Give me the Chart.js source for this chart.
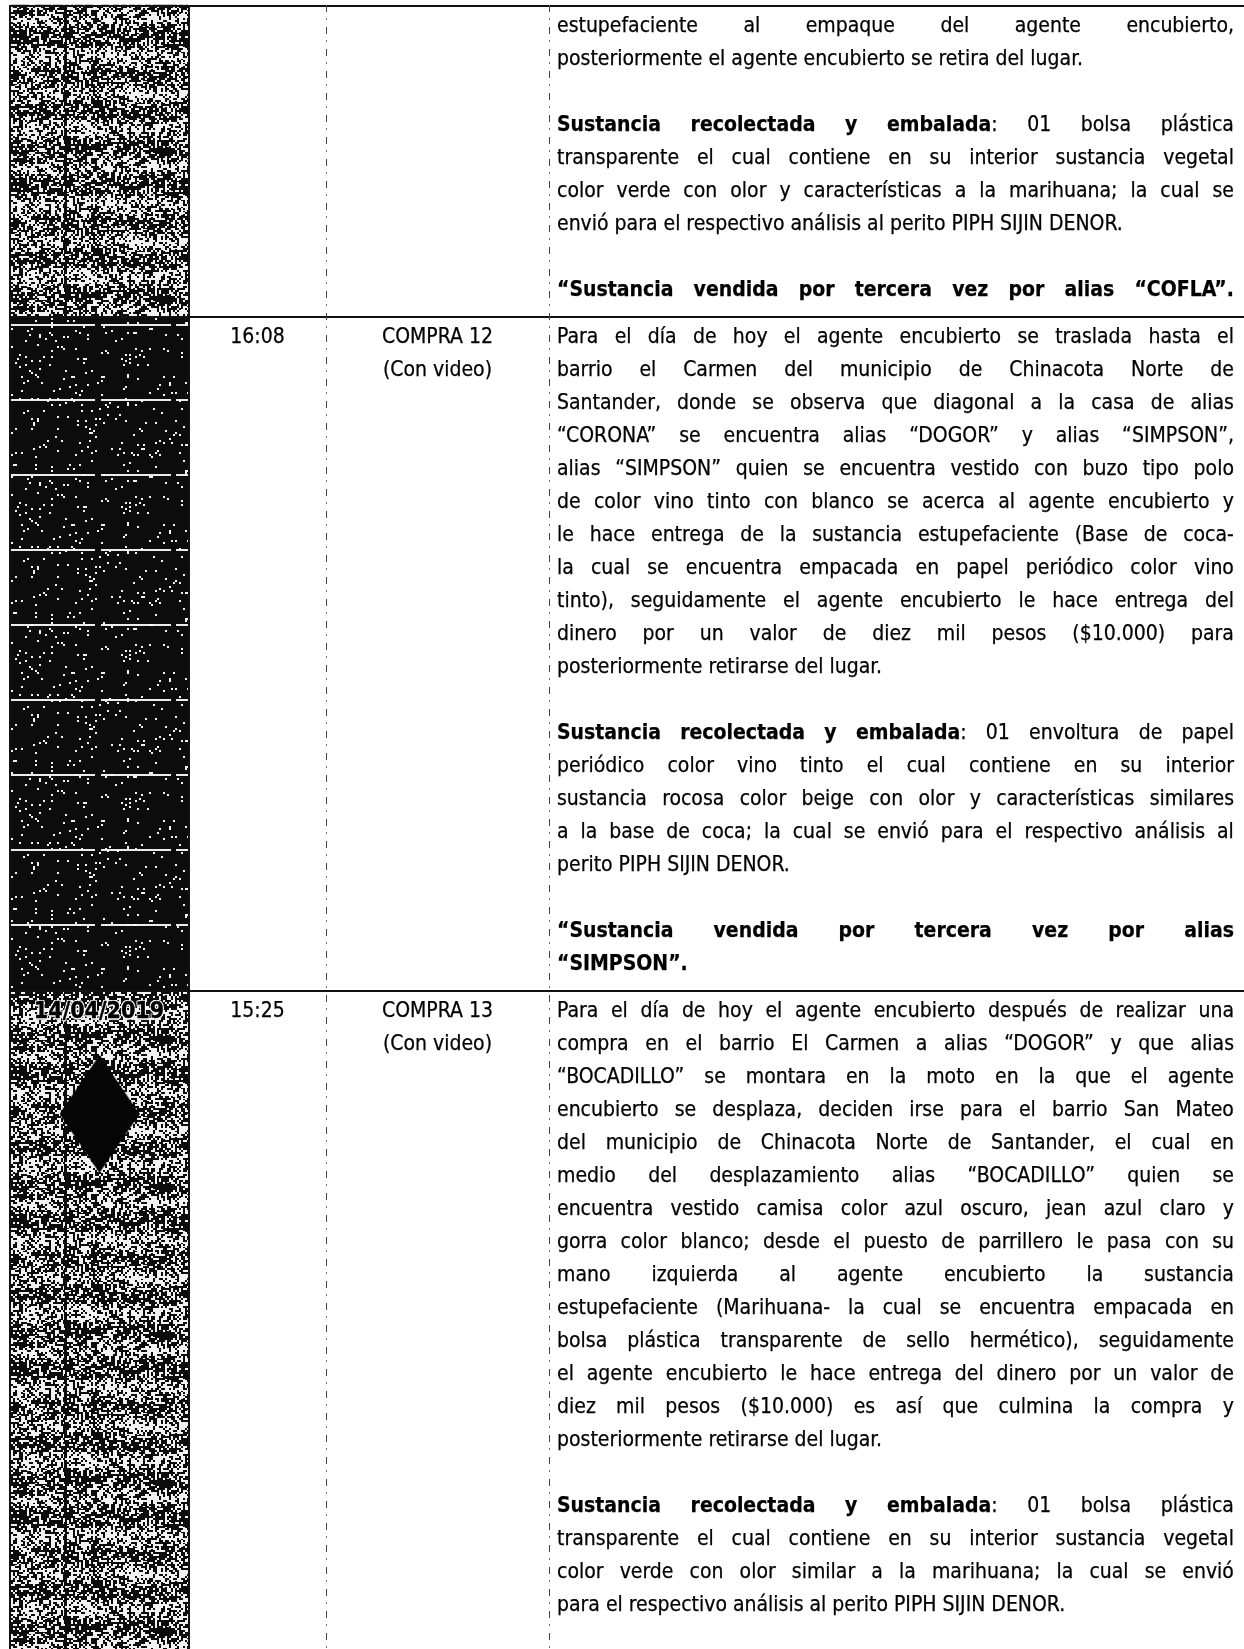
<!DOCTYPE html>
<html lang="es">
<head>
<meta charset="utf-8">
<title>Compras</title>
<script src="https://cdn.jsdelivr.net/npm/chart.js@4.4.1/dist/chart.umd.min.js"></script>
<style>
  html, body { margin: 0; padding: 0; background: #fff; }
  body { width: 1244px; height: 1649px; overflow: hidden; position: relative;
         font-family: "DejaVu Sans Condensed", "DejaVu Sans", sans-serif; font-size: 21px; color: #000;
         -webkit-text-stroke: 0.25px #000; }
  #scan { position: absolute; left: 11px; top: 0; z-index: 1; }
  #table { position: absolute; left: 9px; top: 5px; width: 1235px; z-index: 2; }
  .row { display: grid; grid-template-columns: 180px 137px 223px 695px; border-top: 2px solid #111; }
  .cell { padding: 2px 0 10px 0; line-height: 33px; }
  .c1 { text-align: center; font-size: 23px; font-weight: bold; color: #000; -webkit-text-stroke: 0.4px #000;
        text-shadow: 1px 1px 0 #fff, -1px -1px 0 #fff, 1px -1px 0 #fff, -1px 1px 0 #fff, 0 2px 1px #ddd; }
  .c2, .c3 { text-align: center; }
  .c4 { padding-left: 8px; padding-right: 10px; }
  .ln { height: 33px; line-height: 33px; white-space: nowrap; }
  .ln.j { display: flex; justify-content: space-between; }
  .para { margin-bottom: 33px; }
  .para:last-child { margin-bottom: 0; }
  .vl { position: absolute; top: 5px; bottom: 0; z-index: 3; }
  .solid { width: 2px; background: #111; }
  .dots { width: 1px; background: repeating-linear-gradient(to bottom, #444 0 7px, transparent 7px 13px, #777 13px 15px, transparent 15px 22px); }
</style>
</head>
<body>
<canvas id="scan" width="177" height="1649"></canvas>
<div id="table"></div>
<div class="vl solid" style="left:9px"></div>
<div class="vl solid" style="left:188px"></div>
<div class="vl dots" style="left:326px"></div>
<div class="vl dots" style="left:549px"></div>

<script>
// --- datos de la tabla (una entrada por fila) ---
const rowDates = ['', '', '14/04/2019'];
const rowTimes = ['', '16:08', '15:25'];
const rowBuys = ['', 'COMPRA 12', 'COMPRA 13'];
const rowNotes = ['', '(Con video)', '(Con video)'];
const rowTones = ['scan', 'dark', 'scan'];

// texto de la descripción: *...* = negrita; la última línea de cada párrafo va a la izquierda
// (un '' al final del párrafo justifica también la última línea)
const rowText = [
  [
    ['estupefaciente al empaque del agente encubierto,',
     'posteriormente el agente encubierto se retira del lugar.'],
    ['*Sustancia recolectada y embalada*: 01 bolsa plástica',
     'transparente el cual contiene en su interior sustancia vegetal',
     'color verde con olor y características a la marihuana; la cual se',
     'envió para el respectivo análisis al perito PIPH SIJIN DENOR.'],
    ['*“Sustancia vendida por tercera vez por alias “COFLA”.*', '']
  ],
  [
    ['Para el día de hoy el agente encubierto se traslada hasta el',
     'barrio el Carmen del municipio de Chinacota Norte de',
     'Santander, donde se observa que diagonal a la casa de alias',
     '“CORONA” se encuentra alias “DOGOR” y alias “SIMPSON”,',
     'alias “SIMPSON” quien se encuentra vestido con buzo tipo polo',
     'de color vino tinto con blanco se acerca al agente encubierto y',
     'le hace entrega de la sustancia estupefaciente (Base de coca-',
     'la cual se encuentra empacada en papel periódico color vino',
     'tinto), seguidamente el agente encubierto le hace entrega del',
     'dinero por un valor de diez mil pesos ($10.000) para',
     'posteriormente retirarse del lugar.'],
    ['*Sustancia recolectada y embalada*: 01 envoltura de papel',
     'periódico color vino tinto el cual contiene en su interior',
     'sustancia rocosa color beige con olor y características similares',
     'a la base de coca; la cual se envió para el respectivo análisis al',
     'perito PIPH SIJIN DENOR.'],
    ['*“Sustancia vendida por tercera vez por alias*',
     '*“SIMPSON”.*']
  ],
  [
    ['Para el día de hoy el agente encubierto después de realizar una',
     'compra en el barrio El Carmen a alias “DOGOR” y que alias',
     '“BOCADILLO” se montara en la moto en la que el agente',
     'encubierto se desplaza, deciden irse para el barrio San Mateo',
     'del municipio de Chinacota Norte de Santander, el cual en',
     'medio del desplazamiento alias “BOCADILLO” quien se',
     'encuentra vestido camisa color azul oscuro, jean azul claro y',
     'gorra color blanco; desde el puesto de parrillero le pasa con su',
     'mano izquierda al agente encubierto la sustancia',
     'estupefaciente (Marihuana- la cual se encuentra empacada en',
     'bolsa plástica transparente de sello hermético), seguidamente',
     'el agente encubierto le hace entrega del dinero por un valor de',
     'diez mil pesos ($10.000) es así que culmina la compra y',
     'posteriormente retirarse del lugar.'],
    ['*Sustancia recolectada y embalada*: 01 bolsa plástica',
     'transparente el cual contiene en su interior sustancia vegetal',
     'color verde con olor similar a la marihuana; la cual se envió',
     'para el respectivo análisis al perito PIPH SIJIN DENOR.']
  ]
];

const PAGE_H = 1649;
const ruleGap = 75;        // separación de las rayas blancas en la franja negra
const diamondOffset = 124; // centro del rombo bajo el borde de la fila 3

// --- construcción de la tabla ---
function parseWords(line) {
  const words = []; let bold = false, cur = [], buf = '';
  const flush = () => { if (buf) { cur.push({ t: buf, b: bold }); buf = ''; } };
  for (const ch of line) {
    if (ch === '*') { flush(); bold = !bold; }
    else if (ch === ' ') { flush(); if (cur.length) { words.push(cur); cur = []; } }
    else buf += ch;
  }
  flush(); if (cur.length) words.push(cur);
  return words;
}
const wordHtml = w => w.map(s => s.b ? `<b>${s.t}</b>` : s.t).join('');

function lineEl(line, justify) {
  const d = document.createElement('div');
  d.className = justify ? 'ln j' : 'ln';
  const words = parseWords(line);
  d.innerHTML = justify ? words.map(w => `<span>${wordHtml(w)}</span>`).join('') : words.map(wordHtml).join(' ');
  return d;
}

const table = document.getElementById('table');
rowText.forEach((paras, i) => {
  const row = document.createElement('div');
  row.className = 'row';
  const c1 = document.createElement('div'); c1.className = 'cell c1'; c1.textContent = rowDates[i];
  const c2 = document.createElement('div'); c2.className = 'cell c2'; c2.textContent = rowTimes[i];
  const c3 = document.createElement('div'); c3.className = 'cell c3';
  c3.innerHTML = rowBuys[i] ? `${rowBuys[i]}<br>${rowNotes[i]}` : '';
  const c4 = document.createElement('div'); c4.className = 'cell c4';
  paras.forEach(lines => {
    const p = document.createElement('div'); p.className = 'para';
    const forceLast = lines[lines.length - 1] === '';
    const real = forceLast ? lines.slice(0, -1) : lines;
    real.forEach((l, k) => p.appendChild(lineEl(l, k < real.length - 1 || forceLast)));
    c4.appendChild(p);
  });
  row.append(c1, c2, c3, c4);
  table.appendChild(row);
});

// --- texturas del escaneo (solo estilo) ---
function hash(x, y) {
  const s = Math.sin(x * 12.9898 + y * 78.233) * 43758.5453;
  return s - Math.floor(s);
}
function makeTexture(w, h, dark) {
  const c = document.createElement('canvas'); c.width = w; c.height = h;
  const g = c.getContext('2d'); const img = g.createImageData(w, h);
  for (let y = 0; y < h; y++) {
    for (let x = 0; x < w; x++) {
      const n = hash((x >> 1) + 3, (y >> 1) + 7);
      let p;
      if (dark) p = 0.965;
      else {
        const streak = 0.5 + 0.5 * Math.cos(y / 37 * 2 * Math.PI);
        const blot = hash((x >> 3) + 11, (y >> 3) + 5) - 0.5;
        p = 0.40 + 0.32 * streak + 0.3 * blot;
        if (Math.abs(x - 54) < 2) p = 0.92;
      }
      const v = n < p ? 12 : 242;
      const o = (y * w + x) * 4;
      img.data[o] = img.data[o + 1] = img.data[o + 2] = v; img.data[o + 3] = 255;
    }
  }
  g.putImageData(img, 0, 0);
  return c;
}
function makeDiamond(w, h) {
  const c = document.createElement('canvas'); c.width = w; c.height = h;
  const g = c.getContext('2d');
  g.fillStyle = '#050505';
  g.beginPath(); g.moveTo(w / 2, 0); g.lineTo(w, h / 2); g.lineTo(w / 2, h); g.lineTo(0, h / 2); g.closePath(); g.fill();
  return c;
}

// --- gráfico de la columna escaneada ---
const canvas = document.getElementById('scan');
const ctx = canvas.getContext('2d');
const scanFill = ctx.createPattern(makeTexture(177, 148, false), 'repeat');
const darkFill = ctx.createPattern(makeTexture(177, 148, true), 'repeat');

const rowEls = [...document.querySelectorAll('.row')];
const bands = rowEls.map((el, i) => [
  el.getBoundingClientRect().top,
  i < rowEls.length - 1 ? rowEls[i + 1].getBoundingClientRect().top : PAGE_H
]);
const darkBand = bands[rowTones.indexOf('dark')];
const rules = [];
for (let v = darkBand[0] + 9; v < darkBand[1] - 8; v += ruleGap) rules.push(v);

new Chart(canvas, {
  type: 'bar',
  data: {
    labels: ['col'],
    datasets: [
      ...bands.map((b, i) => ({
        data: [b],
        backgroundColor: rowTones[i] === 'dark' ? darkFill : scanFill,
        borderWidth: 0, barPercentage: 1, categoryPercentage: 1, order: 2
      })),
      {
        type: 'line', showLine: false, order: 0, clip: false,
        data: [{ x: 'col', y: bands[2][0] + diamondOffset }],
        pointStyle: makeDiamond(80, 118), pointRadius: 40
      }
    ]
  },
  options: {
    responsive: false, animation: false, devicePixelRatio: 1, events: [],
    layout: { padding: 0, autoPadding: false },
    plugins: { legend: { display: false }, tooltip: { enabled: false } },
    scales: {
      x: { display: false, stacked: true },
      y: {
        min: 0, max: PAGE_H, reverse: true,
        afterBuildTicks: s => { s.ticks = rules.map(v => ({ value: v })); },
        ticks: { display: false },
        border: { display: false, dash: [84, 6, 70, 5] },
        grid: { z: 1, drawTicks: false, lineWidth: 2, color: 'rgba(255,255,255,0.92)' }
      }
    }
  }
});
</script>
</body>
</html>
